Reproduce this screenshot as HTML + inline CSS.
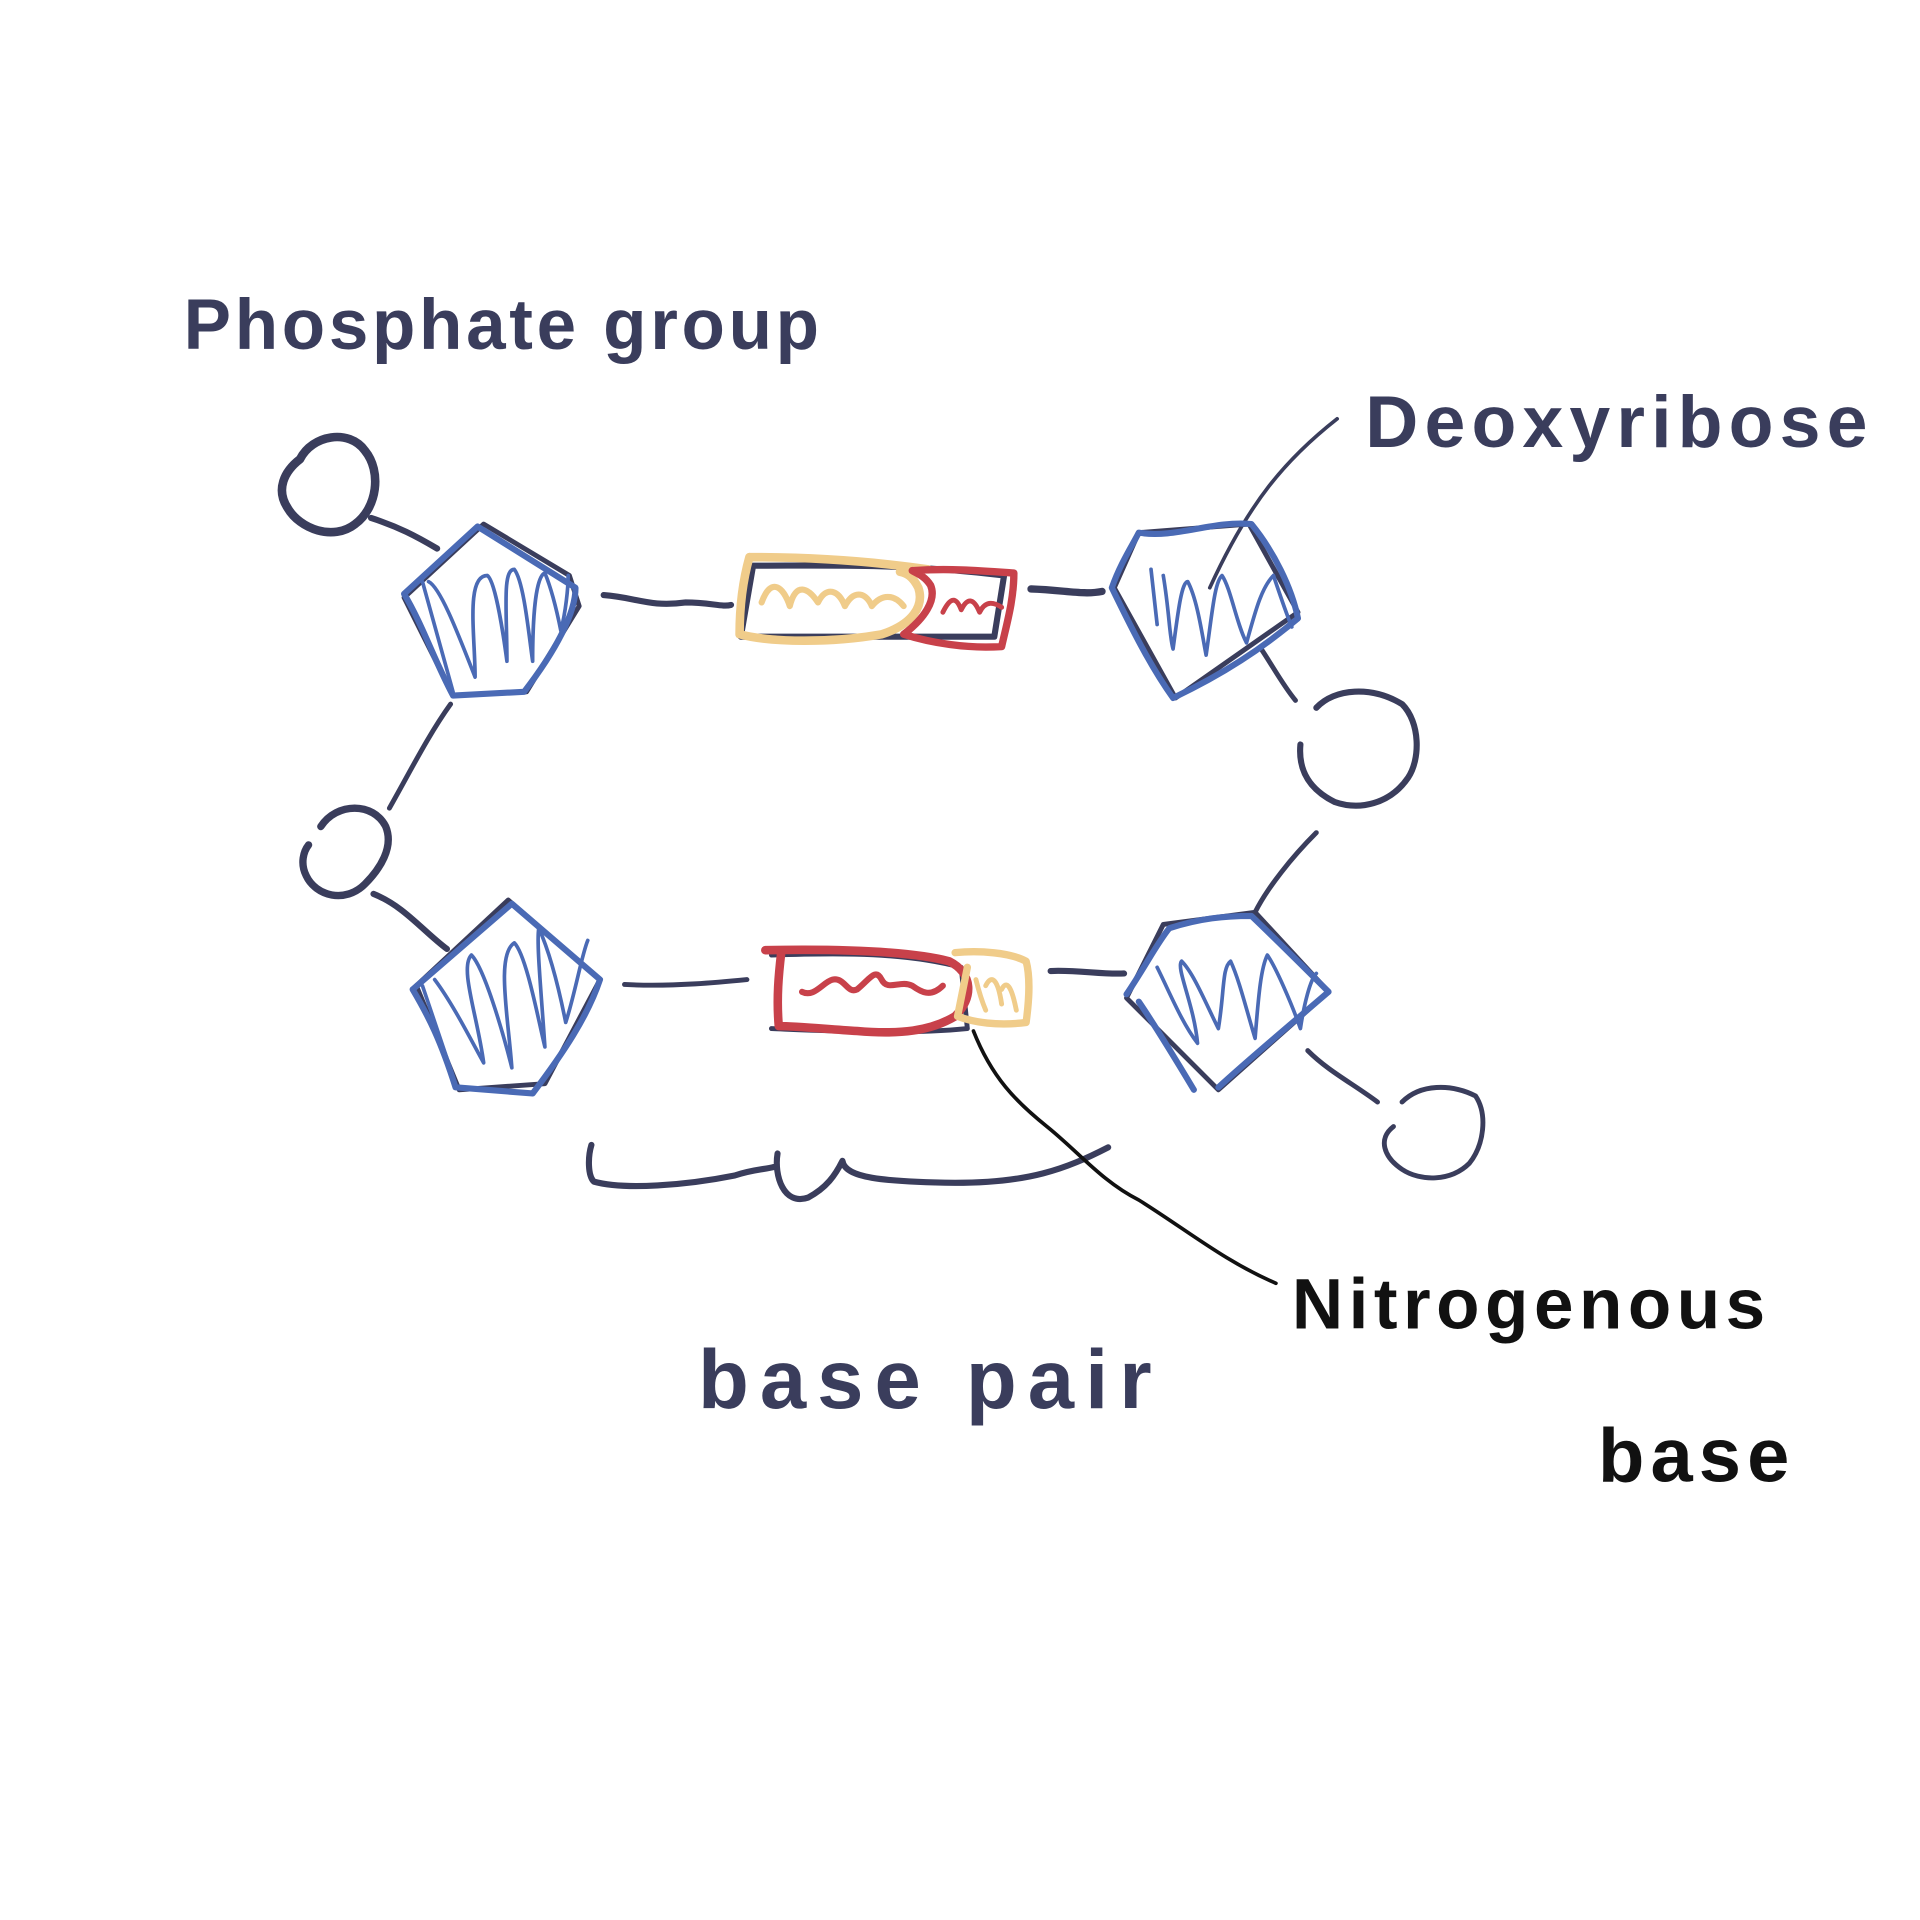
<!DOCTYPE html>
<html><head><meta charset="utf-8"><style>
html,body{margin:0;padding:0;background:#fff;}
svg{display:block;}
text{font-family:"Liberation Sans",sans-serif;}
</style></head><body>
<svg width="1920" height="1920" viewBox="0 0 1568 1568" xmlns="http://www.w3.org/2000/svg">
<rect width="1568" height="1568" fill="#fff"/>
<g fill="none" stroke-linecap="round" stroke-linejoin="round">
<path d="M245,375 C255,355 285,350 298,368 C312,385 308,415 290,428 C272,442 245,432 235,415 C225,400 232,385 245,375" stroke="#3a3d5c" stroke-width="7"/>
<path d="M262,675 C275,655 305,655 315,675 C322,692 310,710 298,722 C282,738 258,732 250,715 C245,705 248,695 252,690" stroke="#3a3d5c" stroke-width="6"/>
<path d="M1075,578 C1090,562 1120,560 1145,575 C1160,590 1160,620 1150,635 C1135,657 1110,662 1090,655 C1070,645 1060,630 1062,608" stroke="#3a3d5c" stroke-width="5"/>
<path d="M1145,900 C1160,885 1185,885 1205,895 C1215,910 1212,935 1200,950 C1185,965 1160,965 1145,955 C1130,945 1125,930 1138,920" stroke="#3a3d5c" stroke-width="4"/>
<path d="M303,423 C325,430 340,438 357,448" stroke="#3a3d5c" stroke-width="5"/>
<path d="M368,575 C350,600 335,630 318,660" stroke="#3a3d5c" stroke-width="4"/>
<path d="M305,730 C330,740 345,760 365,775" stroke="#3a3d5c" stroke-width="5"/>
<path d="M493,486 C520,488 530,496 560,492 C580,492 590,496 597,494" stroke="#3a3d5c" stroke-width="5"/>
<path d="M842,481 C870,482 885,486 900,483" stroke="#3a3d5c" stroke-width="6"/>
<path d="M1092,342 C1050,375 1020,410 988,480" stroke="#3a3d5c" stroke-width="3"/>
<path d="M1030,530 C1040,545 1048,560 1058,572" stroke="#3a3d5c" stroke-width="4"/>
<path d="M1075,680 C1055,700 1035,725 1025,745" stroke="#3a3d5c" stroke-width="4"/>
<path d="M1068,858 C1085,875 1105,885 1125,900" stroke="#3a3d5c" stroke-width="4"/>
<path d="M510,804 C550,806 590,802 610,800" stroke="#3a3d5c" stroke-width="4"/>
<path d="M858,793 C880,792 900,796 918,795" stroke="#3a3d5c" stroke-width="5"/>
<path d="M395,428 L465,470 L473,495 L430,565 L370,568 L330,488 Z" stroke="#3a3d5c" stroke-width="4"/>
<path d="M330,485 L390,430 L470,480 C470,500 455,530 428,565 L370,568 C355,540 345,510 330,485" stroke="#4a6ab5" stroke-width="5"/>
<path d="M345,475 L370,565 M350,475 C360,480 375,520 388,553 C388,520 380,470 398,470 C405,475 412,525 414,540 C414,500 410,465 420,465 C428,475 432,520 435,540 C435,500 438,470 445,468 C450,480 455,500 458,515 C462,500 464,480 464,470" stroke="#4a6ab5" stroke-width="3"/>
<path d="M415,735 L490,800 L445,885 L375,890 L340,805 Z" stroke="#3a3d5c" stroke-width="4"/>
<path d="M337,808 L418,738 L490,800 C480,830 460,860 435,893 L372,888 C360,850 350,830 337,808" stroke="#4a6ab5" stroke-width="5"/>
<path d="M345,805 L372,885 M355,800 C370,820 385,850 395,868 C390,830 375,790 385,780 C395,790 410,840 418,872 C415,830 405,780 420,770 C430,780 440,835 445,855 C442,810 438,770 440,758 C450,780 458,815 462,835 C470,810 475,780 480,768" stroke="#4a6ab5" stroke-width="3"/>
<path d="M930,435 L1020,428 L1060,500 L960,570 L910,480 Z" stroke="#3a3d5c" stroke-width="4"/>
<path d="M908,480 C915,460 925,445 930,435 C960,440 990,425 1022,428 C1040,450 1055,480 1060,505 C1030,530 1000,550 958,570 C940,545 925,515 908,480" stroke="#4a6ab5" stroke-width="5"/>
<path d="M940,465 L945,510 M950,470 C955,500 955,520 958,530 C962,500 965,475 970,475 C978,490 982,520 985,535 C990,500 992,475 998,470 C1005,480 1010,510 1018,525 C1025,500 1030,480 1040,470 C1045,485 1050,500 1055,512" stroke="#4a6ab5" stroke-width="3"/>
<path d="M950,755 L1025,745 L1085,810 L995,890 L920,815 Z" stroke="#3a3d5c" stroke-width="4"/>
<path d="M920,812 C935,790 945,770 955,758 C980,750 1000,748 1022,748 C1045,770 1065,790 1085,810 C1050,840 1020,865 995,888 M930,818 C945,840 960,865 975,890" stroke="#4a6ab5" stroke-width="5"/>
<path d="M945,790 C955,810 965,835 978,852 C975,820 960,790 965,785 C975,795 985,820 995,840 C1000,810 998,790 1005,785 C1012,800 1018,825 1025,848 C1028,810 1030,790 1035,780 C1042,790 1055,820 1062,840 C1065,820 1070,800 1075,795" stroke="#4a6ab5" stroke-width="3"/>
<path d="M615,462 C680,462 740,460 820,470 L812,520 C740,520 680,520 605,520 Z" stroke="#3a3d5c" stroke-width="5"/>
<path d="M612,455 C660,455 710,458 758,465 M612,455 C605,480 604,505 604,518 C630,525 680,525 720,518 C745,510 755,495 750,480 C745,470 740,468 735,467" stroke="#f0cc8a" stroke-width="7"/>
<path d="M622,492 C630,470 640,480 645,495 C650,475 660,480 668,492 C675,478 685,482 690,495 C698,480 708,485 712,495 C720,485 730,485 738,495" stroke="#f0cc8a" stroke-width="5"/>
<path d="M745,466 C775,464 800,466 828,468 C828,490 822,510 818,528 C790,530 760,525 738,518 C755,505 765,490 760,478 C755,470 748,468 745,466" stroke="#c8414a" stroke-width="6"/>
<path d="M770,500 C775,490 780,485 785,498 C790,488 795,488 800,500 C805,490 812,492 818,496" stroke="#c8414a" stroke-width="4"/>
<path d="M630,780 C690,778 740,778 785,790 L790,840 C740,845 680,842 630,840" stroke="#3a3d5c" stroke-width="4"/>
<path d="M625,776 C680,775 740,776 775,785 C795,795 795,815 780,830 C760,842 735,845 700,842 C670,840 650,838 636,838 C634,815 636,795 638,778" stroke="#c8414a" stroke-width="7"/>
<path d="M655,810 C665,815 672,802 680,800 C690,798 692,812 700,808 C710,800 715,790 720,800 C725,810 735,800 745,805 C752,810 760,815 770,805" stroke="#c8414a" stroke-width="5"/>
<path d="M780,778 C800,776 825,778 838,785 C842,800 840,820 838,835 C815,838 795,835 782,830 C785,815 788,800 790,790" stroke="#f0cc8a" stroke-width="6"/>
<path d="M797,800 C800,812 802,818 805,825 M805,805 C810,795 815,800 818,820 M818,808 C822,800 826,805 830,825" stroke="#f0cc8a" stroke-width="4"/>
<path d="M483,935 C480,945 480,960 485,965 C510,972 560,968 600,960 C615,955 625,955 632,953 M635,942 C632,960 640,985 660,978 C675,970 682,960 688,948 C690,962 720,965 780,966 C840,966 870,955 905,937" stroke="#3a3d5c" stroke-width="5"/>
<path d="M795,842 C810,880 830,900 855,920 C880,940 900,965 930,980 C970,1005 1000,1030 1042,1048" stroke="#111" stroke-width="3"/>
</g>
<text x="150" y="285" font-size="58" fill="#3a3d5c" font-weight="bold" letter-spacing="3">Phosphate group</text>
<text x="1115" y="365" font-size="60" fill="#3a3d5c" font-weight="bold" letter-spacing="5">Deoxyribose</text>
<text x="570" y="1150" font-size="68" fill="#3a3d5c" font-weight="bold" letter-spacing="9">base pair</text>
<text x="1055" y="1085" font-size="58" fill="#111" font-weight="bold" letter-spacing="4.5">Nitrogenous</text>
<text x="1305" y="1210" font-size="62" fill="#111" font-weight="bold" letter-spacing="5">base</text>
</svg>
</body></html>
